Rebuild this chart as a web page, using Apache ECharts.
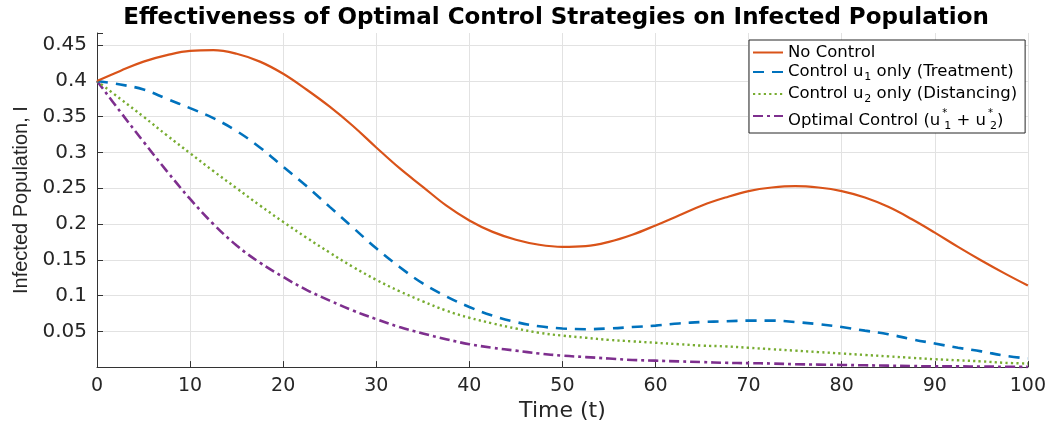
<!DOCTYPE html>
<html>
<head>
<meta charset="utf-8">
<script src="https://cdn.jsdelivr.net/npm/echarts@6/dist/echarts.min.js"></script>
<style>
html,body{margin:0;padding:0;background:#fff;}
#chart{width:1049px;height:427px;}
</style>
</head>
<body>
<div id="chart"></div>
<script>
// ---- data ----
const titleText = 'Effectiveness of Optimal Control Strategies on Infected Population';
const xName = 'Time (t)';
const yName = 'Infected Population, I';
const xTicks = [0, 10, 20, 30, 40, 50, 60, 70, 80, 90, 100];
const yTicks = [0.05, 0.1, 0.15, 0.2, 0.25, 0.3, 0.35, 0.4, 0.45];
const timeVals = [0, 2.5, 5, 7.5, 10, 12.5, 15, 17.5, 20, 22.5, 25, 27.5, 30, 32.5, 35, 37.5, 40, 42.5, 45, 47.5, 50,
  52.5, 55, 57.5, 60, 62.5, 65, 67.5, 70, 72.5, 75, 77.5, 80, 82.5, 85, 87.5, 90, 92.5, 95, 97.5, 100];
const seriesNames = ['No Control', 'Control u1 only (Treatment)', 'Control u2 only (Distancing)', 'Optimal Control (u1* + u2*)'];
const noControl = [0.400, 0.414, 0.427, 0.436, 0.442, 0.443, 0.438, 0.427, 0.410, 0.388, 0.364, 0.337, 0.307, 0.278, 0.252, 0.226, 0.205,
  0.189, 0.178, 0.171, 0.168, 0.169, 0.175, 0.185, 0.198, 0.212, 0.226, 0.237, 0.246, 0.251, 0.253, 0.251, 0.246, 0.237, 0.224,
  0.207, 0.188, 0.168, 0.149, 0.131, 0.114];
const controlU1 = [0.400, 0.395, 0.388, 0.375, 0.362, 0.348, 0.330, 0.307, 0.280, 0.253, 0.224, 0.195, 0.166, 0.140, 0.117, 0.099, 0.084,
  0.072, 0.063, 0.057, 0.054, 0.053, 0.054, 0.056, 0.058, 0.061, 0.063, 0.064, 0.065, 0.065, 0.063, 0.060, 0.056, 0.051, 0.046,
  0.039, 0.033, 0.027, 0.022, 0.016, 0.012];
const controlU2 = [0.400, 0.375, 0.350, 0.324, 0.299, 0.274, 0.250, 0.226, 0.203, 0.181, 0.160, 0.140, 0.122, 0.106, 0.092, 0.079, 0.069,
  0.061, 0.054, 0.048, 0.044, 0.041, 0.038, 0.036, 0.034, 0.032, 0.030, 0.029, 0.027, 0.025, 0.023, 0.021, 0.019, 0.017, 0.015,
  0.013, 0.011, 0.0095, 0.008, 0.006, 0.005];
const optimalControl = [0.400, 0.357, 0.315, 0.274, 0.235, 0.200, 0.170, 0.146, 0.126, 0.108, 0.093, 0.079, 0.067, 0.056, 0.047, 0.039, 0.032,
  0.027, 0.023, 0.019, 0.016, 0.014, 0.012, 0.010, 0.009, 0.008, 0.007, 0.006, 0.0055, 0.005, 0.004, 0.0035, 0.003, 0.0025, 0.002,
  0.0015, 0.001, 0.001, 0.0008, 0.0005, 0.0003];

// ---- chart ----
const pairs = arr => timeVals.map((t, i) => [t, arr[i]]);
const legendRich = {
  '0': '{a|No Control}',
  '1': '{n|Control u}{s|1}{n| only (Treatment)}',
  '2': '{n|Control u}{s|2}{n| only (Distancing)}',
  '3': '{m|Optimal Control (u}{p|*}{t|1}{m| + u}{p|*}{t|2}{m|)}'
};
const F = 'DejaVu Sans';
const LF = 16.5;
const chart = echarts.init(document.getElementById('chart'), null, {renderer: 'canvas'});
const option = {
  backgroundColor: '#ffffff',
  animation: false,
  title: {
    text: titleText,
    left: 556, top: 7, textAlign: 'center', padding: 0,
    textStyle: {fontFamily: F, fontWeight: 'bold', fontSize: 23, color: '#000'}
  },
  grid: {left: 97, right: 20, top: 33, bottom: 56, containLabel: false},
  legend: {
    orient: 'vertical', left: 749, top: 40,
    padding: [4, 8, 1, 3], itemGap: 2,
    itemWidth: 30, itemHeight: 12,
    itemStyle: {opacity: 0, color: 'rgba(0,0,0,0)', borderWidth: 0},
    backgroundColor: '#fff', borderColor: '#262626', borderWidth: 1, borderRadius: 0,
    data: seriesNames,
    formatter: name => legendRich[String(seriesNames.indexOf(name))],
    textStyle: {
      fontFamily: F, fontSize: LF, color: '#000',
      rich: {
        a: {fontFamily: F, fontSize: LF, lineHeight: 17, verticalAlign: 'top'},
        n: {fontFamily: F, fontSize: LF, lineHeight: 18, verticalAlign: 'top'},
        s: {fontFamily: F, fontSize: 11, lineHeight: 11, verticalAlign: 'top', padding: [9, 0, 0, 1]},
        m: {fontFamily: F, fontSize: LF, lineHeight: 18, verticalAlign: 'top', padding: [5, 0, 0, 0]},
        p: {fontFamily: F, fontSize: 10, lineHeight: 10, verticalAlign: 'top', padding: [1, 0, 0, 2], width: 1},
        t: {fontFamily: F, fontSize: 11, lineHeight: 11, verticalAlign: 'top', padding: [14, 0, 0, 1]}
      }
    }
  },
  xAxis: {
    type: 'value', min: xTicks[0], max: xTicks[xTicks.length - 1], interval: 10,
    name: xName, nameLocation: 'middle', nameGap: 32,
    nameTextStyle: {fontFamily: F, fontSize: 22, color: '#262626'},
    axisLine: {show: true, lineStyle: {color: '#333', width: 1}},
    axisTick: {show: true, inside: true, length: 6, lineStyle: {color: '#333'}},
    axisLabel: {fontFamily: F, fontSize: 19, color: '#262626', margin: 9,
      formatter: v => xTicks.includes(v) ? String(v) : ''},
    splitLine: {show: true, lineStyle: {color: '#e2e2e2', width: 1}}
  },
  yAxis: {
    type: 'value', min: 0, max: 0.467, interval: 0.05,
    name: yName, nameLocation: 'middle', nameGap: 64, nameRotate: 90,
    nameTextStyle: {fontFamily: 'Liberation Sans', fontSize: 20, color: '#262626'},
    axisLine: {show: true, lineStyle: {color: '#333', width: 1}},
    axisTick: {show: true, inside: true, length: 6, lineStyle: {color: '#333'}},
    axisLabel: {fontFamily: F, fontSize: 20, color: '#262626', margin: 10,
      formatter: v => {
        const m = yTicks.find(t => Math.abs(t - v) < 1e-6);
        return m !== undefined ? String(m) : '';
      }},
    splitLine: {show: true, showMaxLine: false, lineStyle: {color: '#e2e2e2', width: 1}}
  },
  series: [
    {name: seriesNames[0], type: 'line', data: pairs(noControl), smooth: 0.4, symbol: 'none',
      lineStyle: {color: '#D95319', width: 2.2, type: 'solid'}, itemStyle: {color: '#D95319'}, z: 4},
    {name: seriesNames[1], type: 'line', data: pairs(controlU1), smooth: 0.4, symbol: 'none',
      lineStyle: {color: '#0072BD', width: 2.6, type: [11, 8]}, itemStyle: {color: '#0072BD'}, z: 3},
    {name: seriesNames[2], type: 'line', data: pairs(controlU2), smooth: 0.4, symbol: 'none',
      lineStyle: {color: '#77AC30', width: 2.4, type: [2.2, 3.2]}, itemStyle: {color: '#77AC30'}, z: 2},
    {name: seriesNames[3], type: 'line', data: pairs(optimalControl), smooth: 0.4, symbol: 'none',
      lineStyle: {color: '#7E2F8E', width: 2.6, type: [10, 4, 3, 4]}, itemStyle: {color: '#7E2F8E'}, z: 1}
  ]
};
chart.setOption(option);
</script>
</body>
</html>
